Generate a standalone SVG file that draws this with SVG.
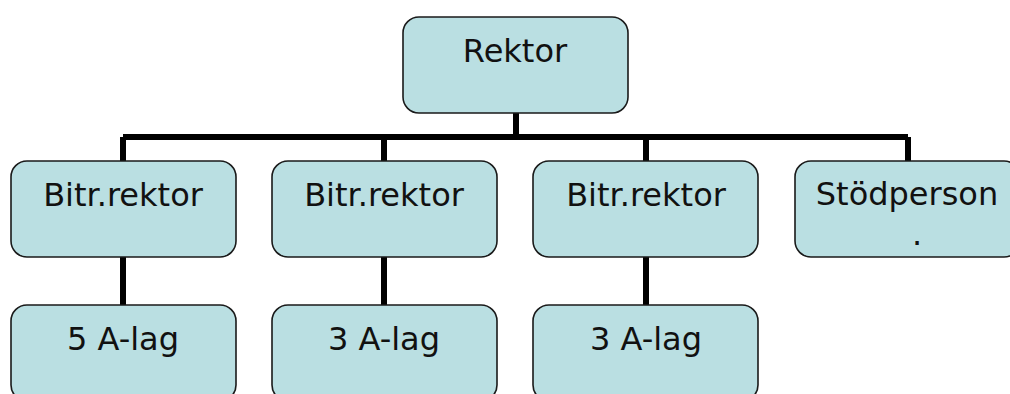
<svg xmlns="http://www.w3.org/2000/svg" width="1010" height="394" viewBox="0 0 1010 394">
<style>
.box{fill:#BADFE2;stroke:#1a1a1a;stroke-width:1.6}
.lbl{font-family:"DejaVu Sans",Verdana,sans-serif;font-size:32px;fill:#111;text-anchor:middle}
.con{stroke:#000;stroke-width:6;fill:none}
</style>
<rect width="1010" height="394" fill="#fff"/>
<g id="connectors">
<path class="con" d="M516 113V137M123 137H908M123 137V161M384 137V161M646 137V161M908 137V161M123 257V305M384 257V305M646 257V305"/>
</g>
<g id="rektor"><rect class="box" x="403" y="17" width="225" height="96" rx="16"/><text class="lbl" x="515" y="62">Rektor</text></g>
<g id="bitr1"><rect class="box" x="11" y="161" width="225" height="96" rx="16"/><text class="lbl" x="123" y="206">Bitr.rektor</text></g>
<g id="bitr2"><rect class="box" x="272" y="161" width="225" height="96" rx="16"/><text class="lbl" x="384" y="206">Bitr.rektor</text></g>
<g id="bitr3"><rect class="box" x="533" y="161" width="225" height="96" rx="16"/><text class="lbl" x="646" y="206">Bitr.rektor</text></g>
<g id="stodperson"><rect class="box" x="795" y="161" width="225" height="96" rx="16"/><text class="lbl" x="907" y="205">Stödperson</text><text class="lbl" x="917" y="245">.</text></g>
<g id="lag1"><rect class="box" x="11" y="305" width="225" height="96" rx="16"/><text class="lbl" x="123" y="350">5 A-lag</text></g>
<g id="lag2"><rect class="box" x="272" y="305" width="225" height="96" rx="16"/><text class="lbl" x="384" y="350">3 A-lag</text></g>
<g id="lag3"><rect class="box" x="533" y="305" width="225" height="96" rx="16"/><text class="lbl" x="646" y="350">3 A-lag</text></g>
</svg>
